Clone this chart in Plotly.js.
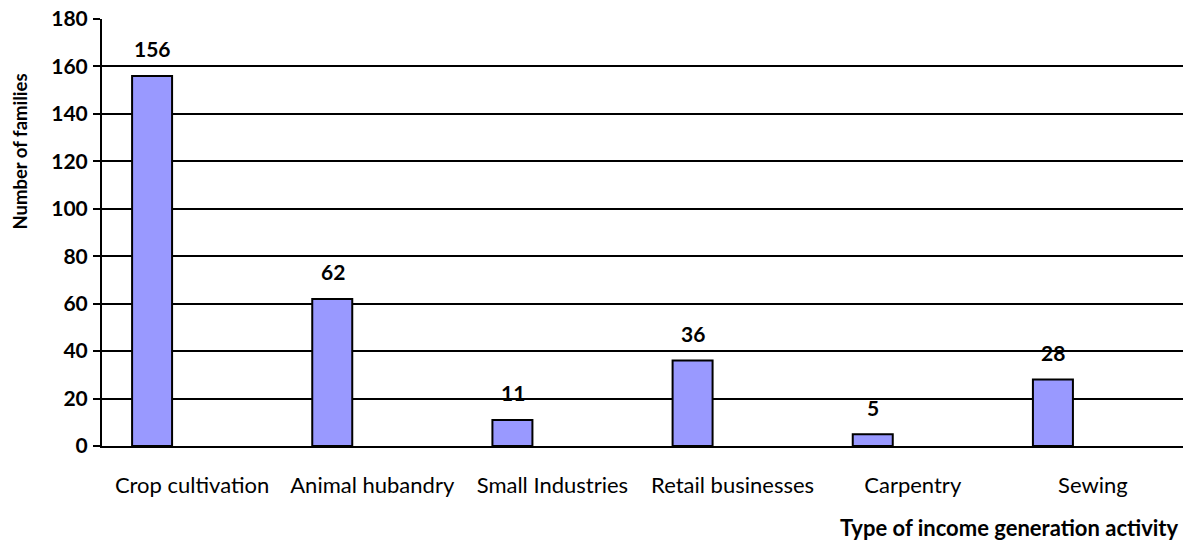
<!DOCTYPE html>
<html>
<head>
<meta charset="utf-8">
<script src="https://cdn.plot.ly/plotly-3.0.1.min.js"></script>
<style>html,body{margin:0;padding:0;background:#fff;}#chart{width:1185px;height:546px;}</style>
</head>
<body>
<div id="chart"></div>
<script>
var categories = ["Crop cultivation", "Animal hubandry", "Small Industries", "Retail businesses", "Carpentry", "Sewing"];
var families = [156, 62, 11, 36, 5, 28];
var yTicks = [0, 20, 40, 60, 80, 100, 120, 140, 160, 180];
var xTitle = "Type of income generation activity";
var yTitle = "Number of families";

var FONT = "Lato, 'Open Sans', sans-serif";

var trace = {
  type: "bar",
  x: categories,
  y: families,
  offset: -0.333,
  width: 0.222,
  marker: {color: "#9999FF", line: {color: "#000000", width: 2}},
  hoverinfo: "x+y"
};

var annotations = categories.map(function (c, i) {
  return {
    x: c, y: families[i], xref: "x", yref: "y",
    text: String(families[i]), showarrow: false,
    xshift: -39.5, yshift: 27, yanchor: "middle", xanchor: "center",
    font: {family: FONT, size: 21, color: "#000", weight: "bold"}
  };
});
annotations.push({
  xref: "paper", yref: "paper", x: 0.9985, y: -0.19, xanchor: "right", yanchor: "middle",
  text: "<b>" + xTitle + "</b>", showarrow: false,
  font: {family: FONT, size: 22, color: "#000"}
});
annotations.push({
  xref: "paper", yref: "paper", x: -0.0763, xanchor: "center",
  y: 0.6885, yanchor: "middle", textangle: -90,
  text: "<b>" + yTitle + "</b>", showarrow: false,
  font: {family: FONT, size: 18.5, color: "#000"}
});

var layout = {
  width: 1185, height: 546,
  margin: {l: 102, r: 2, t: 19, b: 100, pad: 0},
  paper_bgcolor: "#fff", plot_bgcolor: "#fff",
  showlegend: false,
  xaxis: {
    type: "category", range: [-0.5, 5.5],
    showline: true, linecolor: "#000", linewidth: 2,
    ticks: "", showgrid: false, zeroline: false,
    ticklabelstandoff: 19,
    tickfont: {family: FONT, size: 22, color: "#000"}
  },
  yaxis: {
    range: [0, 180], tickvals: yTicks,
    showline: true, linecolor: "#000", linewidth: 2,
    ticks: "outside", ticklen: 7, tickwidth: 2, tickcolor: "#000",
    showgrid: true, gridcolor: "#000", gridwidth: 2,
    zeroline: false, ticklabelstandoff: 1,
    tickfont: {family: FONT, size: 21, color: "#000", weight: "bold"}
  },
  annotations: annotations
};

Plotly.newPlot("chart", [trace], layout, {displayModeBar: false, staticPlot: true});
</script>
</body>
</html>
